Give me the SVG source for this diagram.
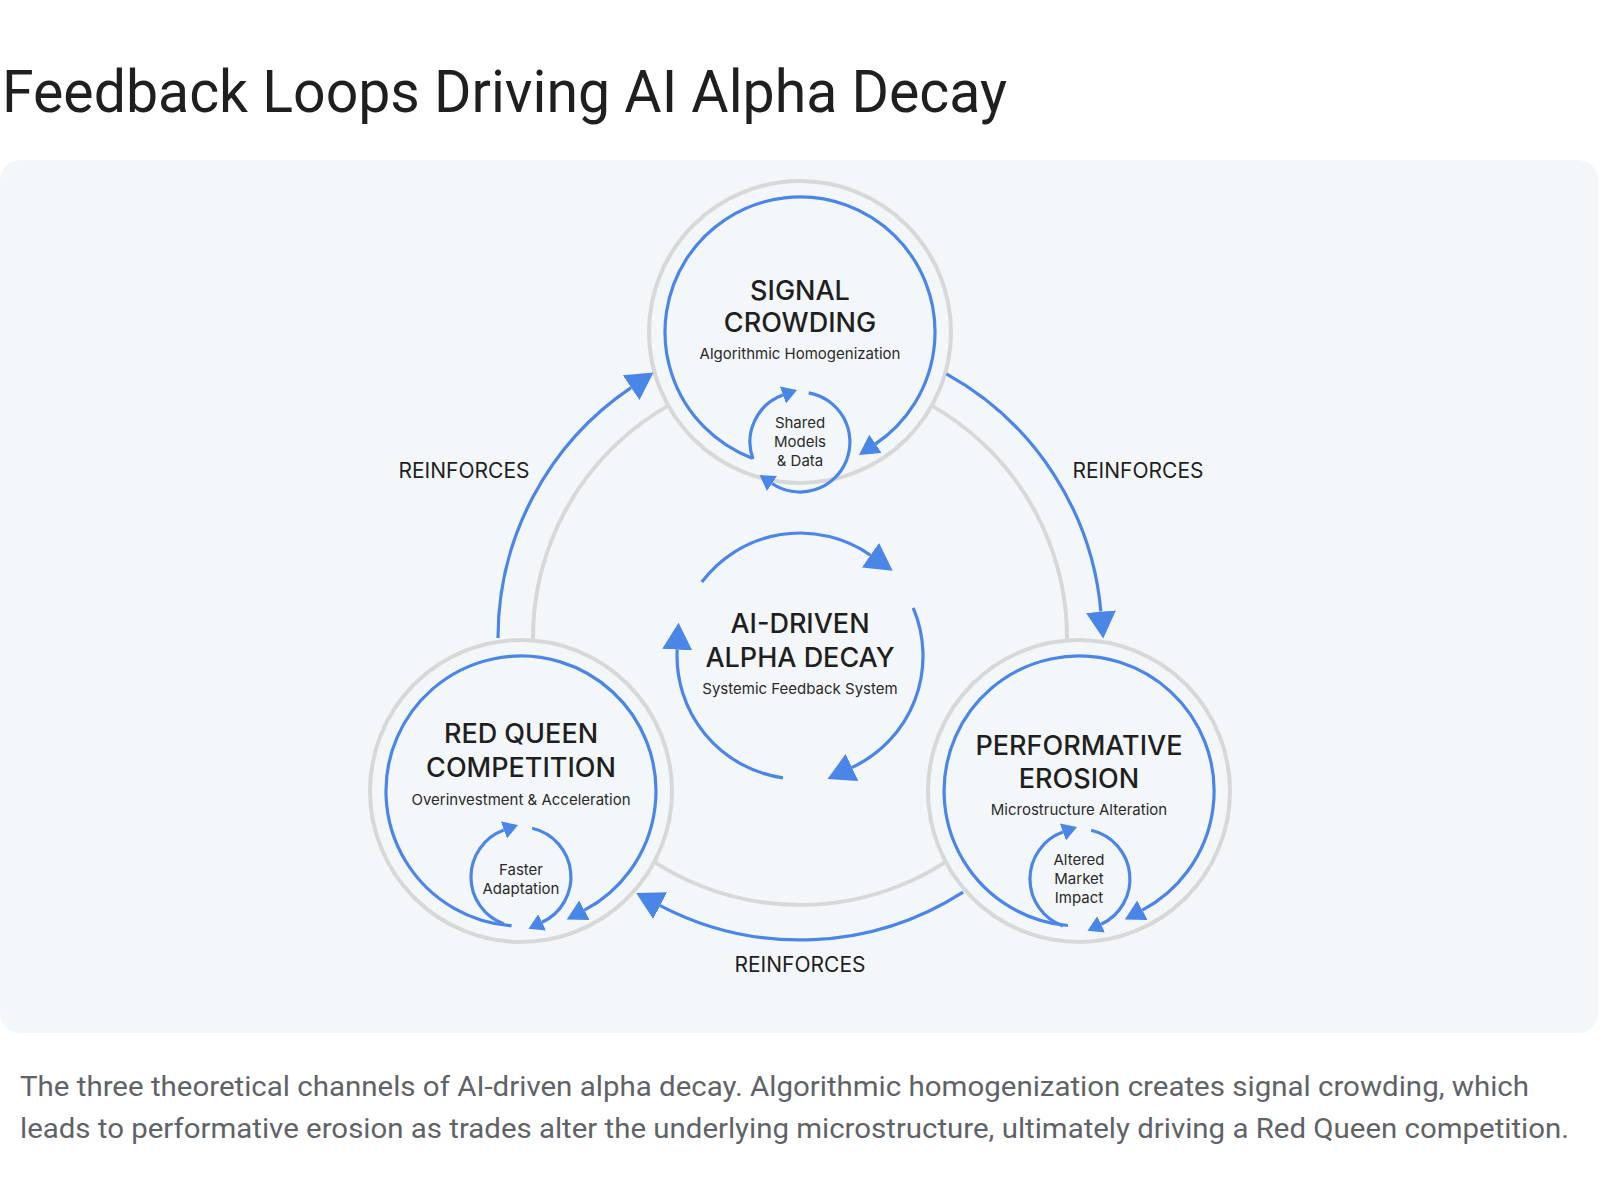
<svg xmlns="http://www.w3.org/2000/svg" width="1600" height="1200" viewBox="0 0 1600 1200">
<defs>
<style>
.title{font-family:Roboto,"Liberation Sans",sans-serif;font-size:60px;fill:#1f1f1f;font-weight:400}
.caption{font-family:Roboto,"Liberation Sans",sans-serif;font-size:28px;fill:#5f6368}
.head{font-family:Inter,"Liberation Sans",sans-serif;font-size:27px;font-weight:500;fill:#1f1f1f;text-anchor:middle}
.sub{font-family:Inter,"Liberation Sans",sans-serif;font-size:15px;fill:#2a2a2a;text-anchor:middle}
.small{font-family:Inter,"Liberation Sans",sans-serif;font-size:15px;fill:#2a2a2a;text-anchor:middle}
.lbl{font-family:Inter,"Liberation Sans",sans-serif;font-size:21px;fill:#1f1f1f;text-anchor:middle}
.ring{fill:#f4f7f9;stroke:#d6d8da;stroke-width:4}
.gray{fill:none;stroke:#d6d8da;stroke-width:4}
.blue{fill:none;stroke:#4a86e8;stroke-width:3.2}
.bigarrow{marker-end:url(#ahL)}
.medarrow{marker-end:url(#ahM)}
.smarrow{marker-end:url(#ahS)}
</style>
<marker id="ahL" markerUnits="userSpaceOnUse" markerWidth="28" markerHeight="30" refX="0" refY="15" orient="auto" viewBox="0 0 28 30"><path d="M0,0 L27,15 L0,30 z" fill="#4a86e8"/></marker>
<marker id="ahM" markerUnits="userSpaceOnUse" markerWidth="21" markerHeight="22" refX="0" refY="11" orient="auto" viewBox="0 0 21 22"><path d="M0,0 L20,11 L0,22 z" fill="#4a86e8"/></marker>
<marker id="ahS" markerUnits="userSpaceOnUse" markerWidth="16" markerHeight="18" refX="0" refY="9" orient="auto" viewBox="0 0 16 18"><path d="M0,0 L15,9 L0,18 z" fill="#4a86e8"/></marker>
</defs>
<rect x="0" y="0" width="1600" height="1200" fill="#ffffff"/>
<text class="title" x="2" y="112" textLength="1005" lengthAdjust="spacingAndGlyphs">Feedback Loops Driving AI Alpha Decay</text>
<rect x="0" y="160" width="1598" height="873" rx="20" ry="20" fill="#f4f7f9"/>

<g id="backdrop-ring">
<circle class="gray" cx="800" cy="638" r="267"/>
</g>

<g id="node-signal-crowding">
<circle class="ring" cx="800" cy="332" r="151"/>
<path class="blue medarrow" d="M751.6,458 A135,135 0 1 1 875.5,443.9"/>
<path class="blue smarrow" d="M753,459.1 A50,50 0 0 1 782.9,395"/>
<path class="blue smarrow" d="M808.7,392.8 A50,50 0 1 1 772,483.5"/>
<text class="head" x="800" y="300">SIGNAL</text>
<text class="head" x="800" y="332">CROWDING</text>
<text class="sub" x="800" y="359">Algorithmic Homogenization</text>
<text class="small" x="800" y="428">Shared</text>
<text class="small" x="800" y="447">Models</text>
<text class="small" x="800" y="466">&amp; Data</text>
</g>

<g id="node-red-queen">
<circle class="ring" cx="521" cy="791" r="151"/>
<path class="blue medarrow" d="M511.6,925.7 A135,135 0 1 1 584.4,910.2"/>
<path class="blue smarrow" d="M503.9,924 A50,50 0 0 1 503.9,830"/>
<path class="blue smarrow" d="M532.2,828.3 A50,50 0 0 1 542.1,922.3"/>
<text class="head" x="521" y="743">RED QUEEN</text>
<text class="head" x="521" y="777">COMPETITION</text>
<text class="sub" x="521" y="805">Overinvestment &amp; Acceleration</text>
<text class="small" x="521" y="875">Faster</text>
<text class="small" x="521" y="894">Adaptation</text>
</g>

<g id="node-performative-erosion">
<circle class="ring" cx="1079" cy="791" r="151"/>
<path class="blue medarrow" d="M1067.9,925.5 A135,135 0 1 1 1142.4,910.2"/>
<path class="blue smarrow" d="M1062.9,926 A50,50 0 0 1 1062.9,832"/>
<path class="blue smarrow" d="M1091.2,830.3 A50,50 0 0 1 1101.1,924.3"/>
<text class="head" x="1079" y="755">PERFORMATIVE</text>
<text class="head" x="1079" y="788">EROSION</text>
<text class="sub" x="1079" y="815">Microstructure Alteration</text>
<text class="small" x="1079" y="865">Altered</text>
<text class="small" x="1079" y="884">Market</text>
<text class="small" x="1079" y="903">Impact</text>
</g>

<g id="node-center">
<path class="blue bigarrow" d="M701.8,582 A123,123 0 0 1 870.5,555.2"/>
<path class="blue bigarrow" d="M913.2,607.9 A123,123 0 0 1 852,767.5"/>
<path class="blue bigarrow" d="M782.9,777.8 A123,123 0 0 1 677.2,649.6"/>
<text class="head" x="800" y="633">AI-DRIVEN</text>
<text class="head" x="800" y="667">ALPHA DECAY</text>
<text class="sub" x="800" y="694">Systemic Feedback System</text>
</g>

<g id="connectors">
<path class="blue bigarrow" d="M498,638 A302,302 0 0 1 631.1,387.6"/>
<path class="blue bigarrow" d="M946.4,373.9 A302,302 0 0 1 1100.9,611.7"/>
<path class="blue bigarrow" d="M963.1,892.1 A302,302 0 0 1 660.1,905.6"/>
<text class="lbl" x="464" y="478">REINFORCES</text>
<text class="lbl" x="1138" y="478">REINFORCES</text>
<text class="lbl" x="800" y="972">REINFORCES</text>
</g>

<text class="caption" x="20" y="1096" textLength="1509" lengthAdjust="spacingAndGlyphs">The three theoretical channels of AI-driven alpha decay. Algorithmic homogenization creates signal crowding, which</text>
<text class="caption" x="20" y="1138" textLength="1549" lengthAdjust="spacingAndGlyphs">leads to performative erosion as trades alter the underlying microstructure, ultimately driving a Red Queen competition.</text>
</svg>
